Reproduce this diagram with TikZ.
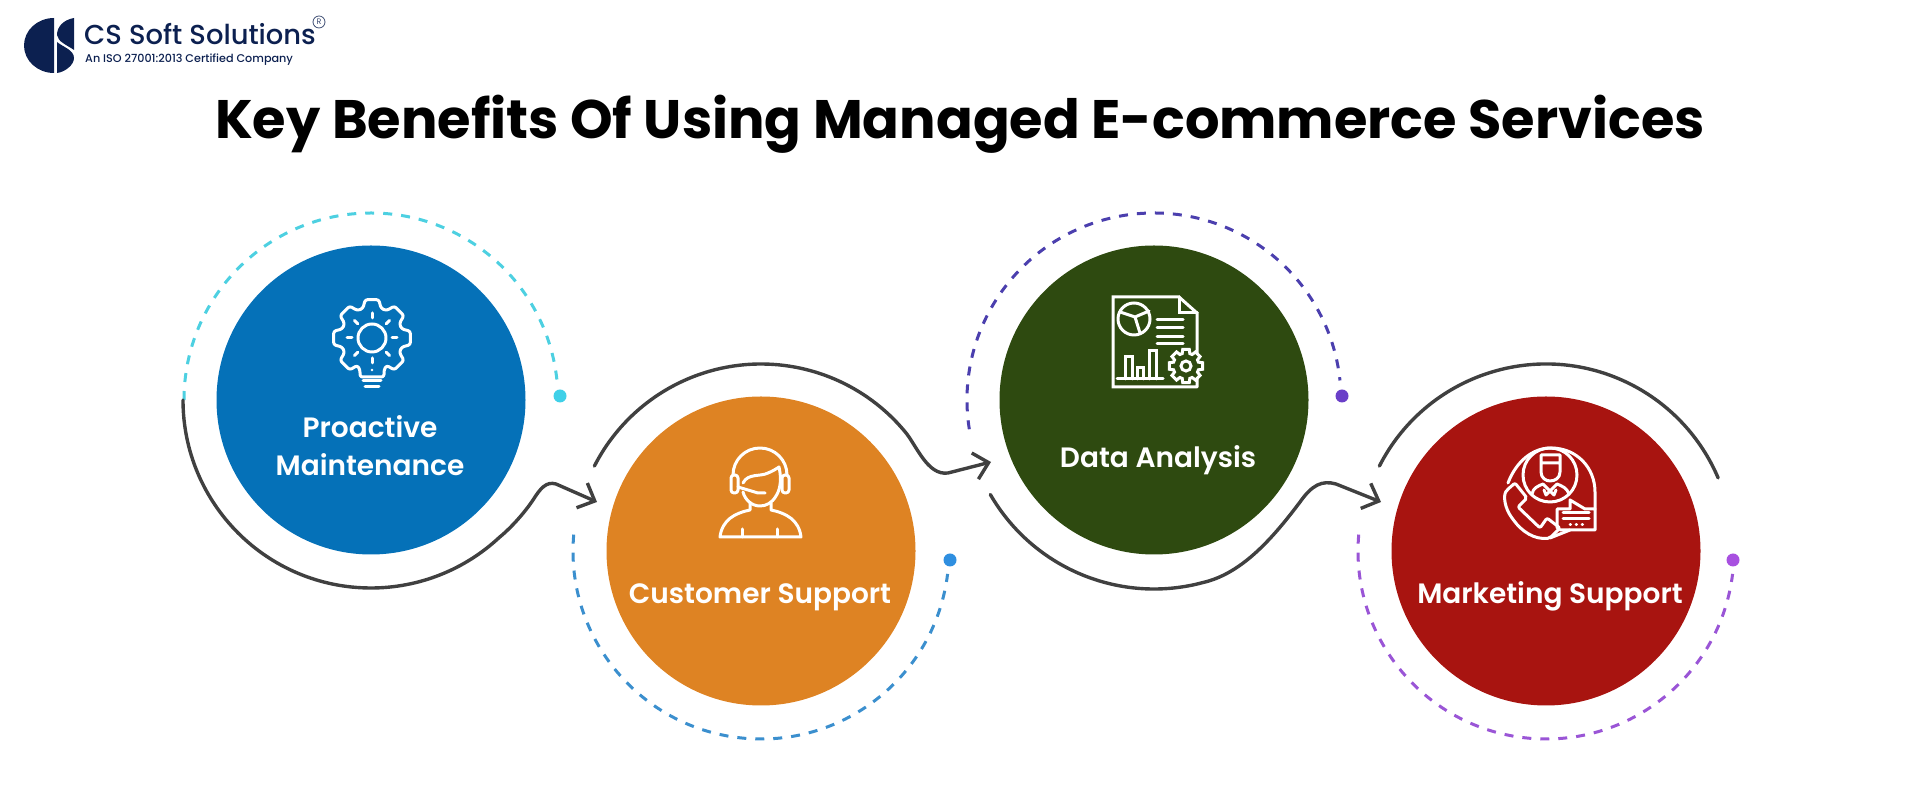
\documentclass[tikz,border=0pt]{standalone}
\usepackage{fontspec}
\usepackage{xcolor}
\usetikzlibrary{arrows.meta}
\setmainfont{Poppins}
\newfontfamily\semifont{Poppins SemiBold}
\newfontfamily\logofont{Poppins Medium}
\definecolor{logoblue}{HTML}{0C2050}
\definecolor{wire}{HTML}{404040}
\definecolor{blueC}{HTML}{0571B8}
\definecolor{orangeC}{HTML}{DE8323}
\definecolor{greenC}{HTML}{2E4A10}
\definecolor{redC}{HTML}{A81410}
\definecolor{cyanD}{HTML}{4DD0E1}
\definecolor{skyD}{HTML}{3B8FCE}
\definecolor{indigoD}{HTML}{4B3FAE}
\definecolor{violetD}{HTML}{9A55D6}
\definecolor{cyanE}{HTML}{3FD0E8}
\definecolor{skyE}{HTML}{2F8FE0}
\definecolor{indigoE}{HTML}{6A3FC8}
\definecolor{violetE}{HTML}{A850E0}

\begin{document}
\begin{tikzpicture}[x=1pt,y=1pt,
    disc/.style={circle,minimum size=309pt,inner sep=0pt,draw=none},
    lbl/.style={text=white,align=center,font=\semifont\fontsize{28}{38}\selectfont},
    flow/.style={draw=wire,line width=3.4pt,line cap=round},
    flowtip/.style={flow,-{Straight Barb[length=14pt,width=27pt,line width=3.4pt]}},
    dashring/.style={line width=3pt,dash pattern=on 9pt off 9pt},
    dot/.style={circle,minimum size=13pt,inner sep=0pt},
    icon/.style={draw=white,line width=3pt,line cap=round,line join=round},
    pixels/.style={shift={(0,800)},yscale=-1}]
  \useasboundingbox (0,0) rectangle (1920,800);

  \node[disc,fill=blueC]   (P) at (371,400) {};
  \node[disc,fill=orangeC] (C) at (761,249) {};
  \node[disc,fill=greenC]  (D) at (1154,400) {};
  \node[disc,fill=redC]    (M) at (1546,249) {};

  \node[anchor=center,font=\bfseries\fontsize{54.2}{66}\selectfont] (title) at (960,676)
    {Key Benefits Of Using Managed E-commerce Services};

  \node[lbl] (Pt) at (370,354) {Proactive\\Maintenance};
  \node[lbl] (Ct) at (760,203) {Customer Support};
  \node[lbl] (Dt) at (1158,340) {Data Analysis};
  \node[lbl] (Mt) at (1550,204) {Marketing Support};

  % dashed rings and their end dots
  \node[dot,fill=cyanE]   (Pd) at (560,404) {};
  \node[dot,fill=skyE]    (Cd) at (950,240) {};
  \node[dot,fill=indigoE] (Dd) at (1342,404) {};
  \node[dot,fill=violetE] (Md) at (1733,240) {};
  \draw[dashring,draw=cyanD]   ([shift={(180:187)}]P.center) arc[start angle=180,end angle=6,radius=187];
  \draw[dashring,draw=skyD]    ([shift={(175:188)}]C.center) arc[start angle=175,end angle=353,radius=188];
  \draw[dashring,draw=indigoD] ([shift={(189:187)}]D.center) arc[start angle=189,end angle=6,radius=187];
  \draw[dashring,draw=violetD] ([shift={(175:188)}]M.center) arc[start angle=175,end angle=353,radius=188];

  % solid arcs running into the next disc
  \coordinate (tipC) at (597,298);
  \coordinate (tipD) at (991,338);
  \coordinate (tipM) at (1381,298);
  \draw[flowtip] ([shift={(180:188)}]P.center) arc[start angle=180,end angle=313,radius=188]
    .. controls (512,273) and (525,288) .. (533,300)
    .. controls (540,311) and (546,319) .. (556,316) -- (tipC);
  \draw[flowtip] ([shift={(153:187)}]C.center) arc[start angle=153,end angle=40,radius=187]
    .. controls (916,356) and (927,324) .. (948,327) -- (tipD);
  \draw[flowtip] ([shift={(210:189)}]D.center) arc[start angle=210,end angle=285,radius=189]
    .. controls (1240,226) and (1270,258) .. (1300,298)
    .. controls (1312,315) and (1322,320) .. (1336,316) -- (tipM);
  \draw[flow] ([shift={(153:187)}]M.center) arc[start angle=153,end angle=23,radius=187];

  % gear bulb
  \begin{scope}[shift={(372,462)},icon]
    \draw[rounded corners=2.5pt] (12,-32)
      \foreach \a in {-45,0,...,225} { -- (\a-17:31) -- (\a-10:39) -- (\a+10:39) -- (\a+17:31) }
      -- (-12,-32) -- (-12,-39) -- (12,-39) -- cycle;
    \draw (0,0) circle[radius=14];
    \foreach \a in {0,45,...,315} \draw (\a:20) -- (\a:25);
    \draw (-9,-43) -- (9,-43) (-7,-49) -- (7,-49);
    \fill[white] (0,-32) circle[radius=1.3];
  \end{scope}

  % headset agent
  \begin{scope}[pixels,icon]
    \draw (733,475) arc[start angle=180,end angle=360,radius=27];
    \draw[rounded corners=3pt] (731,475) rectangle (738,493);
    \draw[rounded corners=3pt] (782,475) rectangle (789,493);
    \draw (743,483) .. controls (748,473) and (760,477) .. (768,473) .. controls (773,471) and (776,469) .. (779,467)
      .. controls (782,480) and (780,490) .. (776,496) .. controls (772,503) and (766,506) .. (760,506)
      .. controls (752,506) and (745,500) .. (743,492);
    \draw (738,487) -- (758,493) -- (765,493);
    \draw (750,503) -- (750,510) .. controls (735,513) and (722,520) .. (720,537) -- (801,537)
      .. controls (799,520) and (786,513) .. (771,510) -- (771,503);
    \draw (742,529) -- (742,537) (777,529) -- (777,537);
  \end{scope}

  % report page with cog
  \begin{scope}[pixels,icon,line join=miter]
    \draw (1197,387) -- (1113,387) -- (1113,297) -- (1179,297) -- (1197,313) -- (1197,387);
    \draw (1179,297) -- (1179,313) -- (1197,313);
    \draw (1134,319) circle[radius=16];
    \draw (1120,312) -- (1135,317) -- (1149,311) (1135,317) -- (1140,333);
    \draw (1157,320) -- (1183,320) (1157,328) -- (1183,328) (1157,337) -- (1183,337) (1157,344) -- (1183,344);
    \draw (1117,379) -- (1163,379);
    \draw (1125,379) -- (1125,357) -- (1132,357) -- (1132,379);
    \draw (1137,379) -- (1137,368) -- (1143,368) -- (1143,379);
    \draw (1149,379) -- (1149,351) -- (1156,351) -- (1156,379);
    \draw[fill=greenC,shift={(1186,366)}] (-17:13)
      \foreach \a in {0,45,...,315} { -- (\a-17:13) -- (\a-11:17) -- (\a+11:17) -- (\a+17:13) } -- cycle;
    \draw (1186,366) circle[radius=5];
  \end{scope}

  % call agent with chat box
  \begin{scope}[pixels,icon]
    \draw (1508,483) .. controls (1516,462) and (1532,448) .. (1551,448)
      .. controls (1577,448) and (1595,468) .. (1595,492) -- (1595,509);
    \draw (1550,475) circle[radius=27];
    \draw (1541,463) -- (1560,463) (1541,455) -- (1560,455) -- (1560,472)
      .. controls (1560,478) and (1555,481) .. (1550,481) .. controls (1546,481) and (1541,478) .. (1541,472) -- (1541,455);
    \draw (1532,494) .. controls (1533,488) and (1538,486) .. (1543,484) -- (1550,491) -- (1557,484)
      .. controls (1562,486) and (1567,488) .. (1569,494);
    \draw (1544,490) -- (1546,495) -- (1550,491) -- (1554,495) -- (1556,490);
    \draw[rounded corners=2pt] (1515,483) -- (1527,498) -- (1518,507) -- (1540,528) -- (1547,518) -- (1560,528) -- (1550,538)
      .. controls (1535,540) and (1522,532) .. (1512,518) .. controls (1505,508) and (1503,496) .. (1507,490) -- cycle;
    \draw (1550,538) -- (1570,530);
    \draw (1557,528) -- (1557,509) -- (1570,509) -- (1570,500) -- (1585,509) -- (1595,509) -- (1595,530) -- (1560,530);
    \draw (1563,513) -- (1589,513) (1563,519) -- (1589,519);
    \draw (1570,525) -- (1570.5,525) (1576,525) -- (1576.5,525) (1582,525) -- (1582.5,525);
  \end{scope}

  % logo
  \begin{scope}[pixels]
    \fill[logoblue] (54,18) arc[start angle=-90,end angle=-270,x radius=30,y radius=27.5] -- cycle;
    \fill[logoblue] (74,18) .. controls (63,20) and (57,27) .. (57,35)
      .. controls (58,42) and (67,45) .. (74,50) -- cycle;
    \fill[logoblue] (57,42) .. controls (63,47) and (74,50) .. (74,58)
      .. controls (74,65) and (65,72) .. (57,73) -- cycle;
  \end{scope}
  \node[anchor=base west,text=logoblue,inner sep=0pt,font=\logofont\fontsize{27.4}{30}\selectfont] (logoname) at (84,755) {CS Soft Solutions};
  \node[anchor=base west,text=logoblue,inner sep=0pt,font=\logofont\fontsize{11.2}{14}\selectfont] (logosub) at (85,737) {An ISO 27001:2013 Certified Company};
  \node[circle,draw=logoblue!80,line width=.8pt,minimum size=12pt,inner sep=0pt,text=logoblue!80,font=\fontsize{8}{9}\selectfont] (logoreg) at (319,778) {R};
\end{tikzpicture}
\end{document}
